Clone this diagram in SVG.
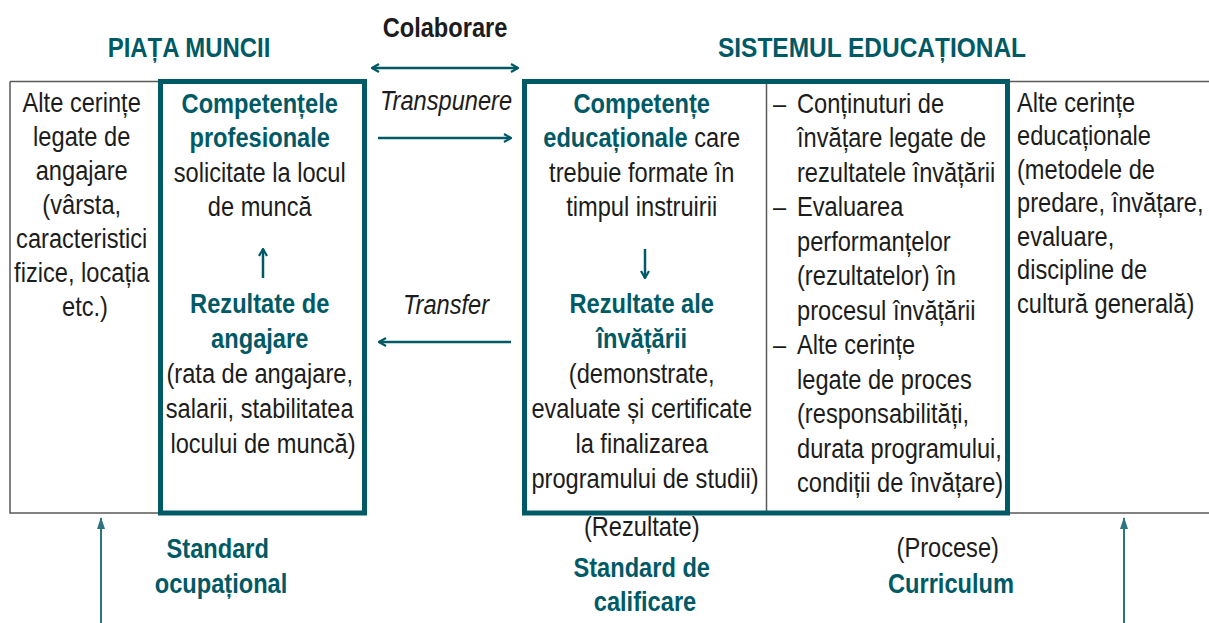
<svg xmlns="http://www.w3.org/2000/svg" width="1209" height="623" viewBox="0 0 1209 623">
<style>
.t{font-family:"Liberation Sans",Arial,sans-serif;font-size:27.5px;fill:#1c1c1c}
.b{font-weight:bold;fill:#005a66}
.k{font-weight:bold;fill:#1c1c1c}
.i{font-style:italic}
.c{text-anchor:middle}
.thin{fill:none;stroke:#5a5a5a;stroke-width:1.5}
.thick{fill:none;stroke:#005a66;stroke-width:5}
.ar{fill:none;stroke:#005a66;stroke-width:2.5}
.up{fill:none;stroke:#2b7480;stroke-width:2}
</style>
<defs>
<marker id="open" viewBox="0 0 10 10" refX="9" refY="5" markerWidth="10" markerHeight="10" markerUnits="userSpaceOnUse" orient="auto-start-reverse">
<path d="M2,1 L9,5 L2,9" fill="none" stroke="#005a66" stroke-width="2.2"/>
</marker>
<marker id="tri" viewBox="0 0 12 10" refX="11" refY="5" markerWidth="12" markerHeight="10" markerUnits="userSpaceOnUse" orient="auto">
<path d="M0,1 L12,5 L0,9 Z" fill="#2b7480"/>
</marker>
</defs>
<rect width="1209" height="623" fill="#ffffff"/>

<g id="table">
<path class="thin" d="M10,81.5 H160 M10,81.5 V513 H160 M1008,81.5 H1209 M1008,513 H1209 M766.5,81.5 V513"/>
</g>

<g id="headers">
<text class="t b c" transform="translate(189,57) scale(0.87,1)" x="0" y="0">PIAȚA MUNCII</text>
<text class="t b c" transform="translate(872,57) scale(0.89,1)" x="0" y="0">SISTEMUL EDUCAȚIONAL</text>
<text class="t k c" transform="translate(445,37) scale(0.86,1)" x="0" y="0">Colaborare</text>
</g>

<g id="node-alte-angajare">
<text class="t c" transform="translate(85,0) scale(0.86,1)">
<tspan x="0" y="112">Alte cerințe</tspan>
<tspan x="0" y="146">legate de</tspan>
<tspan x="0" y="180">angajare</tspan>
<tspan x="0" y="214">(vârsta,</tspan>
<tspan x="0" y="248">caracteristici</tspan>
<tspan x="0" y="282">fizice, locația</tspan>
<tspan x="0" y="316">etc.)</tspan>
</text>
</g>

<g id="node-piata">
<rect class="thick" x="160.5" y="81.5" width="204" height="431.5"/>
<text class="t c" transform="translate(263,0) scale(0.86,1)">
<tspan class="b" x="0" y="113">Competențele</tspan>
<tspan class="b" x="0" y="147.5">profesionale</tspan>
<tspan x="0" y="182">solicitate la locul</tspan>
<tspan x="0" y="216.5">de muncă</tspan>
<tspan class="b" x="0" y="313.5">Rezultate de</tspan>
<tspan class="b" x="0" y="348">angajare</tspan>
<tspan x="0" y="383">(rata de angajare,</tspan>
<tspan x="0" y="418">salarii, stabilitatea</tspan>
<tspan x="0" y="453">locului de muncă)</tspan>
</text>
</g>

<g id="node-mid-labels">
<text class="t i c" transform="translate(446,110) scale(0.86,1)" x="0" y="0">Transpunere</text>
<text class="t i c" transform="translate(446,314) scale(0.86,1)" x="0" y="0">Transfer</text>
</g>

<g id="node-sistem">
<rect class="thick" x="524.5" y="81.5" width="483" height="431.5"/>
<text class="t c" transform="translate(645,0) scale(0.86,1)">
<tspan class="b" x="0" y="113">Competențe</tspan>
<tspan x="0" y="147.5"><tspan class="b">educaționale</tspan> care</tspan>
<tspan x="0" y="182">trebuie formate în</tspan>
<tspan x="0" y="216.5">timpul instruirii</tspan>
<tspan class="b" x="0" y="313.5">Rezultate ale</tspan>
<tspan class="b" x="0" y="348">învățării</tspan>
<tspan x="0" y="383">(demonstrate,</tspan>
<tspan x="0" y="418">evaluate și certificate</tspan>
<tspan x="0" y="453">la finalizarea</tspan>
<tspan x="0" y="488">programului de studii)</tspan>
</text>
</g>

<g id="node-procese">
<text class="t" transform="translate(773,0) scale(0.86,1)">
<tspan x="0" y="113">–</tspan>
<tspan x="0" y="216.5">–</tspan>
<tspan x="0" y="354.5">–</tspan>
</text>
<text class="t" transform="translate(797,0) scale(0.86,1)">
<tspan x="0" y="113">Conținuturi de</tspan>
<tspan x="0" y="147.5">învățare legate de</tspan>
<tspan x="0" y="182">rezultatele învățării</tspan>
<tspan x="0" y="216.5">Evaluarea</tspan>
<tspan x="0" y="251">performanțelor</tspan>
<tspan x="0" y="285.5">(rezultatelor) în</tspan>
<tspan x="0" y="320">procesul învățării</tspan>
<tspan x="0" y="354.5">Alte cerințe</tspan>
<tspan x="0" y="389">legate de proces</tspan>
<tspan x="0" y="423.5">(responsabilități,</tspan>
<tspan x="0" y="458">durata programului,</tspan>
<tspan x="0" y="492.5">condiții de învățare)</tspan>
</text>
</g>

<g id="node-alte-educationale">
<text class="t" transform="translate(1017,0) scale(0.86,1)">
<tspan x="0" y="112">Alte cerințe</tspan>
<tspan x="0" y="145.5">educaționale</tspan>
<tspan x="0" y="179">(metodele de</tspan>
<tspan x="0" y="212.5">predare, învățare,</tspan>
<tspan x="0" y="246">evaluare,</tspan>
<tspan x="0" y="279.5">discipline de</tspan>
<tspan x="0" y="313">cultură generală)</tspan>
</text>
</g>

<g id="node-standard-ocupational">
<text class="t b c" transform="translate(221,0) scale(0.86,1)">
<tspan x="0" y="558">Standard</tspan>
<tspan x="0" y="593">ocupațional</tspan>
</text>
</g>

<g id="node-standard-calificare">
<text class="t c" transform="translate(645,0) scale(0.86,1)">
<tspan x="0" y="536">(Rezultate)</tspan>
<tspan class="b" x="0" y="577">Standard de</tspan>
<tspan class="b" x="0" y="611">calificare</tspan>
</text>
</g>

<g id="node-curriculum">
<text class="t c" transform="translate(951,0) scale(0.86,1)">
<tspan x="0" y="557">(Procese)</tspan>
<tspan class="b" x="0" y="593">Curriculum</tspan>
</text>
</g>

<g id="connectors">
<line class="ar" x1="372" y1="68" x2="518" y2="68" marker-start="url(#open)" marker-end="url(#open)"/>
<line class="ar" x1="378" y1="138" x2="511" y2="138" marker-end="url(#open)"/>
<line class="ar" x1="511" y1="342" x2="379" y2="342" marker-end="url(#open)"/>
<line class="ar" x1="263" y1="278" x2="263" y2="249" marker-end="url(#open)"/>
<line class="ar" x1="645" y1="249" x2="645" y2="278" marker-end="url(#open)"/>
<line class="up" x1="101" y1="623" x2="101" y2="518" marker-end="url(#tri)"/>
<line class="up" x1="1124" y1="623" x2="1124" y2="518" marker-end="url(#tri)"/>
</g>
</svg>
